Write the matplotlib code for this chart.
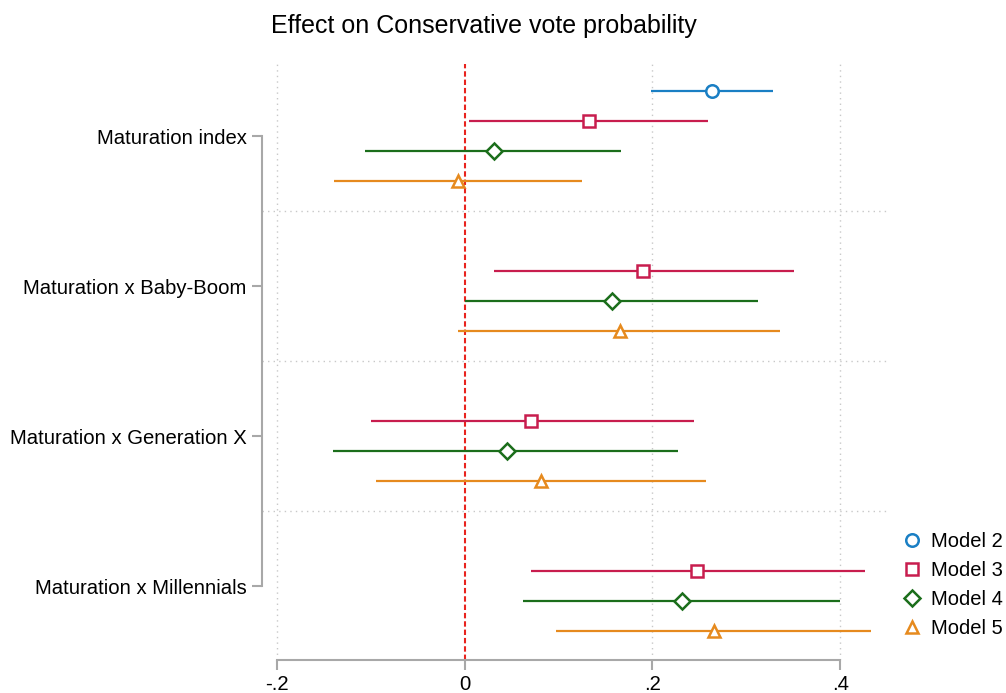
import numpy as np
import matplotlib.pyplot as plt

plt.rcParams['font.family'] = ['Liberation Sans', 'DejaVu Sans']

terms = ["Maturation index", "Maturation x Baby-Boom",
         "Maturation x Generation X", "Maturation x Millennials"]
models = ["Model 2", "Model 3", "Model 4", "Model 5"]

# point estimates and 95% CIs, one row per term (nan = not in model)
est_m2 = [0.263, np.nan, np.nan, np.nan]
lo_m2 = [0.199, np.nan, np.nan, np.nan]
hi_m2 = [0.328, np.nan, np.nan, np.nan]

est_m3 = [0.132, 0.190, 0.071, 0.248]
lo_m3 = [0.005, 0.031, -0.100, 0.071]
hi_m3 = [0.259, 0.351, 0.244, 0.426]

est_m4 = [0.031, 0.157, 0.045, 0.231]
lo_m4 = [-0.106, 0.000, -0.140, 0.062]
hi_m4 = [0.167, 0.313, 0.227, 0.400]

est_m5 = [-0.007, 0.165, 0.081, 0.266]
lo_m5 = [-0.139, -0.007, -0.095, 0.097]
hi_m5 = [0.125, 0.336, 0.257, 0.433]

xticks = [-0.2, 0, 0.2, 0.4]
xticklabels = ["-.2", "0", ".2", ".4"]

series = [(est_m2, lo_m2, hi_m2), (est_m3, lo_m3, hi_m3),
          (est_m4, lo_m4, hi_m4), (est_m5, lo_m5, hi_m5)]
colors = ['#1a7fc4', '#c81d4e', '#1b6e1b', '#e68a1e']
markers = ['o', 's', 'D', '^']
msizes = [9, 9, 8.5, 9]
offsets = [-0.3, -0.1, 0.1, 0.3]

W, H = 1006, 693
fig = plt.figure(figsize=(W / 100, H / 100), dpi=100)
ax = fig.add_axes([262 / W, 33 / H, 626 / W, 596 / H])

ypos = np.arange(len(terms))
grey = '#a8a8a8'

# dotted grid
for xv in [-0.2, 0.2, 0.4]:
    ax.axvline(xv, color='#c8c8c8', lw=1, ls=(0, (1, 3)), zorder=0)
for yv in [0.5, 1.5, 2.5]:
    ax.axhline(yv, color='#c8c8c8', lw=1, ls=(0, (1, 3)), zorder=0)
ax.axvline(0, color='#e8231e', lw=1.5, ls=(0, (2.6, 1.4)), zorder=1)

for k, (est, lo, hi) in enumerate(series):
    est = np.array(est)
    lo = np.array(lo)
    hi = np.array(hi)
    yy = ypos + offsets[k]
    ax.hlines(yy, lo, hi, color=colors[k], lw=1.6, zorder=2)
    ax.plot(est, yy, ls='none', marker=markers[k], ms=msizes[k],
            mfc='white', mec=colors[k], mew=1.8, color=colors[k],
            label=models[k], zorder=3)

ax.set_xlim(-0.216, 0.451)
ax.set_ylim(3.493, -0.48)

ax.set_yticks(ypos)
ax.set_yticklabels(terms, fontsize=14.6)
ax.set_xticks(xticks)
ax.set_xticklabels(xticklabels, fontsize=14.6)

for side in ['top', 'right']:
    ax.spines[side].set_visible(False)
ax.spines['left'].set_bounds(0, 3)
ax.spines['bottom'].set_bounds(-0.2, 0.4)
for side in ['left', 'bottom']:
    ax.spines[side].set_color(grey)
    ax.spines[side].set_linewidth(1.5)
ax.tick_params(axis='both', color=grey, width=1.5, length=7, pad=4)

fig.text(483.5 / W, 1 - 33 / H, "Effect on Conservative vote probability",
         fontsize=18, ha='center', va='baseline')

ax.legend(loc='center left', bbox_to_anchor=(902 / W, 1 - 585 / H),
          bbox_transform=fig.transFigure, frameon=False, fontsize=14.5,
          handlelength=1.0, handletextpad=0.45, labelspacing=0.5,
          borderaxespad=0, borderpad=0)

fig.savefig('out.png', dpi=100)
